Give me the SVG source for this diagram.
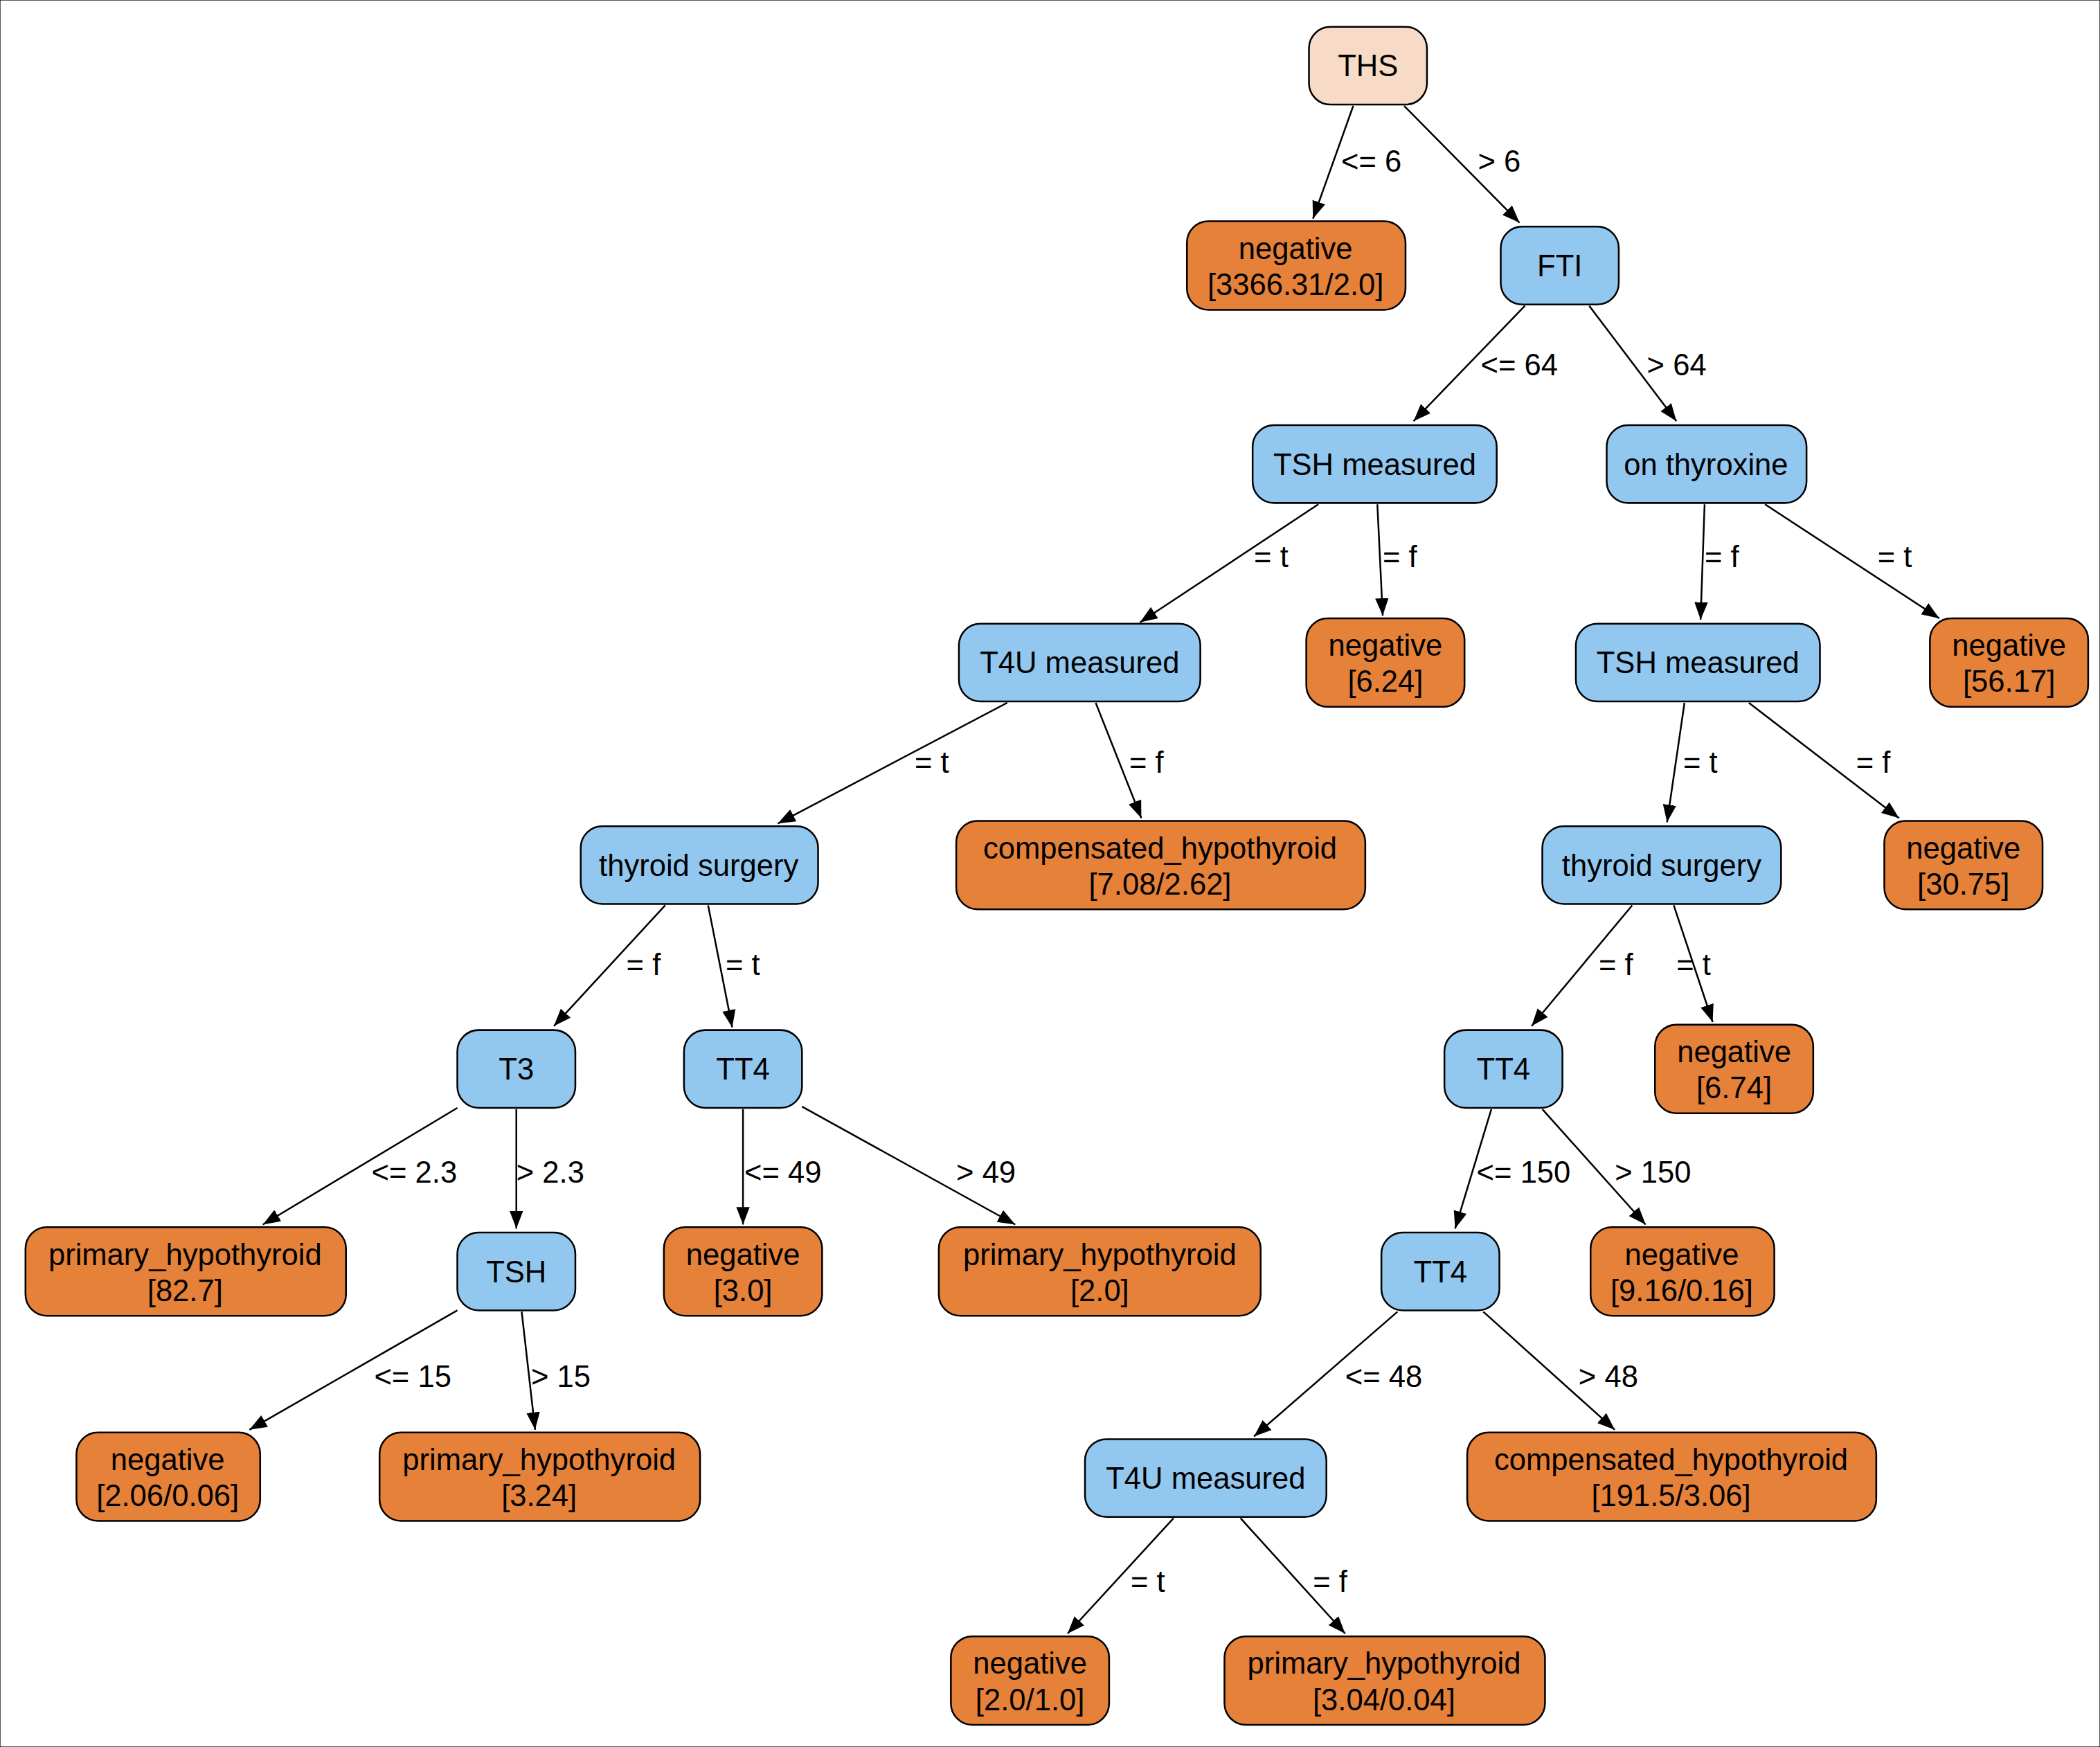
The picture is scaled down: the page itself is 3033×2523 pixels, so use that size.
<svg xmlns="http://www.w3.org/2000/svg" width="3033" height="2523" viewBox="0 0 3033 2523">
<style>
text{font-family:"Liberation Sans",Arial,sans-serif;font-size:22.5px;fill:#000;text-anchor:middle}
.l{text-anchor:start}
rect{stroke:#000;stroke-width:1.3}
.i{fill:#92c8f0}.o{fill:#e58139}.r{fill:#f8dbc6}
.e line{stroke:#000;stroke-width:1.3;marker-end:url(#a)}
</style>
<defs><marker id="a" markerUnits="userSpaceOnUse" markerWidth="14" markerHeight="12" refX="13" refY="5" orient="auto" viewBox="0 0 14 10"><path d="M0,0L13,5L0,10z" fill="#000"/></marker></defs>
<rect width="3033" height="2523" fill="#fff" stroke="none"/>
<g transform="scale(1.937)">
<g class="e">
<line x1="1009" y1="79" x2="979" y2="163"/><text class="l" x="1000" y="128">&lt;= 6</text>
<line x1="1047" y1="79" x2="1133" y2="166"/><text class="l" x="1102" y="128">&gt; 6</text>
<line x1="1137" y1="228" x2="1054" y2="314"/><text class="l" x="1104" y="280">&lt;= 64</text>
<line x1="1185" y1="228" x2="1250" y2="314"/><text class="l" x="1228" y="280">&gt; 64</text>
<line x1="983" y1="376" x2="850" y2="464"/><text class="l" x="935" y="423">= t</text>
<line x1="1027" y1="376" x2="1031" y2="459"/><text class="l" x="1031" y="423">= f</text>
<line x1="1271" y1="376" x2="1268" y2="462"/><text class="l" x="1271" y="423">= f</text>
<line x1="1316" y1="376" x2="1446" y2="461"/><text class="l" x="1400" y="423">= t</text>
<line x1="751" y1="524" x2="580" y2="614"/><text class="l" x="682" y="576">= t</text>
<line x1="817" y1="524" x2="851" y2="610"/><text class="l" x="842" y="576">= f</text>
<line x1="1256" y1="524" x2="1243" y2="613"/><text class="l" x="1255" y="576">= t</text>
<line x1="1304" y1="524" x2="1416" y2="610"/><text class="l" x="1384" y="576">= f</text>
<line x1="496" y1="675" x2="413" y2="765"/><text class="l" x="467" y="727">= f</text>
<line x1="528" y1="675" x2="546" y2="766"/><text class="l" x="541" y="727">= t</text>
<line x1="1217" y1="675" x2="1142" y2="765"/><text class="l" x="1192" y="727">= f</text>
<line x1="1248" y1="675" x2="1277" y2="762"/><text class="l" x="1250" y="727">= t</text>
<line x1="341" y1="826" x2="196" y2="913"/><text class="l" x="277" y="882">&lt;= 2.3</text>
<line x1="385" y1="827" x2="385" y2="916"/><text class="l" x="385" y="882">&gt; 2.3</text>
<line x1="554" y1="827" x2="554" y2="913"/><text class="l" x="555" y="882">&lt;= 49</text>
<line x1="598" y1="825" x2="757" y2="913"/><text class="l" x="713" y="882">&gt; 49</text>
<line x1="1112" y1="827" x2="1085" y2="916"/><text class="l" x="1101" y="882">&lt;= 150</text>
<line x1="1150" y1="827" x2="1227" y2="913"/><text class="l" x="1204" y="882">&gt; 150</text>
<line x1="341" y1="977" x2="186" y2="1066"/><text class="l" x="279" y="1034">&lt;= 15</text>
<line x1="389" y1="978" x2="399" y2="1066"/><text class="l" x="396" y="1034">&gt; 15</text>
<line x1="1042" y1="978" x2="935" y2="1071"/><text class="l" x="1003" y="1034">&lt;= 48</text>
<line x1="1106" y1="978" x2="1204" y2="1066"/><text class="l" x="1177" y="1034">&gt; 48</text>
<line x1="875" y1="1132" x2="796" y2="1218"/><text class="l" x="843" y="1187">= t</text>
<line x1="925" y1="1132" x2="1003" y2="1218"/><text class="l" x="979" y="1187">= f</text>
</g>
<g id="n0"><rect class="r" x="976" y="20" width="88" height="58" rx="16"/><text x="1020" y="57">THS</text></g>
<g id="n1"><rect class="o" x="885" y="165" width="163" height="66" rx="16"/><text x="966" y="193">negative</text><text x="966" y="220">[3366.31/2.0]</text></g>
<g id="n2"><rect class="i" x="1119" y="169" width="88" height="58" rx="16"/><text x="1163" y="206">FTI</text></g>
<g id="n3"><rect class="i" x="934" y="317" width="182" height="58" rx="16"/><text x="1025" y="354">TSH measured</text></g>
<g id="n4"><rect class="i" x="1198" y="317" width="149" height="58" rx="16"/><text x="1272" y="354">on thyroxine</text></g>
<g id="n5"><rect class="i" x="715" y="465" width="180" height="58" rx="16"/><text x="805" y="502">T4U measured</text></g>
<g id="n6"><rect class="o" x="974" y="461" width="118" height="66" rx="16"/><text x="1033" y="489">negative</text><text x="1033" y="516">[6.24]</text></g>
<g id="n7"><rect class="i" x="1175" y="465" width="182" height="58" rx="16"/><text x="1266" y="502">TSH measured</text></g>
<g id="n8"><rect class="o" x="1439" y="461" width="118" height="66" rx="16"/><text x="1498" y="489">negative</text><text x="1498" y="516">[56.17]</text></g>
<g id="n9"><rect class="i" x="433" y="616" width="177" height="58" rx="16"/><text x="521" y="653">thyroid surgery</text></g>
<g id="n10"><rect class="o" x="713" y="612" width="305" height="66" rx="16"/><text x="865" y="640">compensated_hypothyroid</text><text x="865" y="667">[7.08/2.62]</text></g>
<g id="n11"><rect class="i" x="1150" y="616" width="178" height="58" rx="16"/><text x="1239" y="653">thyroid surgery</text></g>
<g id="n12"><rect class="o" x="1405" y="612" width="118" height="66" rx="16"/><text x="1464" y="640">negative</text><text x="1464" y="667">[30.75]</text></g>
<g id="n13"><rect class="i" x="341" y="768" width="88" height="58" rx="16"/><text x="385" y="805">T3</text></g>
<g id="n14"><rect class="i" x="510" y="768" width="88" height="58" rx="16"/><text x="554" y="805">TT4</text></g>
<g id="n15"><rect class="i" x="1077" y="768" width="88" height="58" rx="16"/><text x="1121" y="805">TT4</text></g>
<g id="n16"><rect class="o" x="1234" y="764" width="118" height="66" rx="16"/><text x="1293" y="792">negative</text><text x="1293" y="819">[6.74]</text></g>
<g id="n17"><rect class="o" x="19" y="915" width="239" height="66" rx="16"/><text x="138" y="943">primary_hypothyroid</text><text x="138" y="970">[82.7]</text></g>
<g id="n18"><rect class="i" x="341" y="919" width="88" height="58" rx="16"/><text x="385" y="956">TSH</text></g>
<g id="n19"><rect class="o" x="495" y="915" width="118" height="66" rx="16"/><text x="554" y="943">negative</text><text x="554" y="970">[3.0]</text></g>
<g id="n20"><rect class="o" x="700" y="915" width="240" height="66" rx="16"/><text x="820" y="943">primary_hypothyroid</text><text x="820" y="970">[2.0]</text></g>
<g id="n21"><rect class="i" x="1030" y="919" width="88" height="58" rx="16"/><text x="1074" y="956">TT4</text></g>
<g id="n22"><rect class="o" x="1186" y="915" width="137" height="66" rx="16"/><text x="1254" y="943">negative</text><text x="1254" y="970">[9.16/0.16]</text></g>
<g id="n23"><rect class="o" x="57" y="1068" width="137" height="66" rx="16"/><text x="125" y="1096">negative</text><text x="125" y="1123">[2.06/0.06]</text></g>
<g id="n24"><rect class="o" x="283" y="1068" width="239" height="66" rx="16"/><text x="402" y="1096">primary_hypothyroid</text><text x="402" y="1123">[3.24]</text></g>
<g id="n25"><rect class="i" x="809" y="1073" width="180" height="58" rx="16"/><text x="899" y="1110">T4U measured</text></g>
<g id="n26"><rect class="o" x="1094" y="1068" width="305" height="66" rx="16"/><text x="1246" y="1096">compensated_hypothyroid</text><text x="1246" y="1123">[191.5/3.06]</text></g>
<g id="n27"><rect class="o" x="709" y="1220" width="118" height="66" rx="16"/><text x="768" y="1248">negative</text><text x="768" y="1275">[2.0/1.0]</text></g>
<g id="n28"><rect class="o" x="913" y="1220" width="239" height="66" rx="16"/><text x="1032" y="1248">primary_hypothyroid</text><text x="1032" y="1275">[3.04/0.04]</text></g>
</g>
</svg>
